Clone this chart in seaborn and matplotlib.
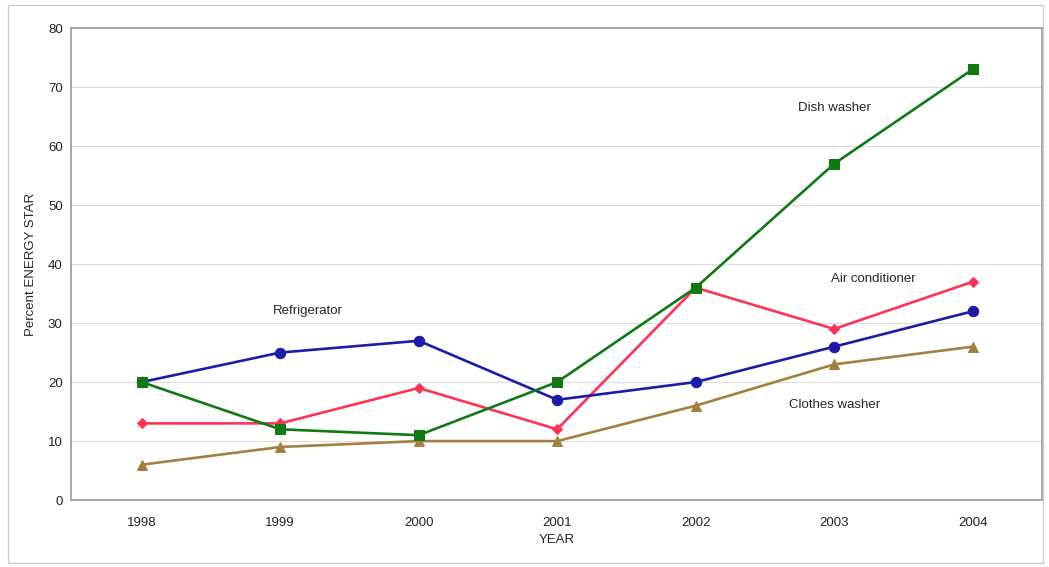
import pandas as pd
import matplotlib.pyplot as plt
import seaborn as sns
from matplotlib.patches import Rectangle

years = [1998, 1999, 2000, 2001, 2002, 2003, 2004]
refrigerator = [20, 25, 27, 17, 20, 26, 32]
dish_washer = [20, 12, 11, 20, 36, 57, 73]
air_conditioner = [13, 13, 19, 12, 36, 29, 37]
clothes_washer = [6, 9, 10, 10, 16, 23, 26]

# drawing order: bottom to top
series = {
    "Clothes washer": clothes_washer,
    "Air conditioner": air_conditioner,
    "Refrigerator": refrigerator,
    "Dish washer": dish_washer,
}
rows = []
for name, vals in series.items():
    for y, v in zip(years, vals):
        rows.append({"Year": y, "Value": v, "Appliance": name})
df = pd.DataFrame(rows)

sns.set_style("white")
plt.rcParams["font.family"] = ["Liberation Sans", "DejaVu Sans"]

colors = {
    "Refrigerator": "#1c1ca6",
    "Dish washer": "#0f7a14",
    "Air conditioner": "#ff3355",
    "Clothes washer": "#a3803f",
}
markers = {
    "Refrigerator": "o",
    "Dish washer": "s",
    "Air conditioner": "D",
    "Clothes washer": "^",
}
msize = {"Refrigerator": 7.5, "Dish washer": 7.5, "Air conditioner": 5.5, "Clothes washer": 7.5}

fig = plt.figure(figsize=(10.49, 5.67), dpi=100)
ax = fig.add_axes([0.0677, 0.118, 0.9256, 0.8326])

for name in series:
    sub = df[df["Appliance"] == name]
    sns.lineplot(data=sub, x="Year", y="Value", color=colors[name], marker=markers[name],
                 markersize=msize[name], markeredgecolor=colors[name], linewidth=1.9,
                 ax=ax, legend=False)

ax.set_xlim(1997.49, 2004.5)
ax.set_ylim(0, 80)
ax.set_yticks(range(0, 81, 10))
ax.set_xticks(years)
ax.yaxis.grid(True, color="#dddddd", linewidth=0.8)
ax.set_axisbelow(True)
for s in ax.spines.values():
    s.set_color("#999999")
    s.set_linewidth(1.2)
ax.tick_params(axis="both", labelsize=9.5, colors="#222222", length=0)
ax.tick_params(axis="y", pad=6)
ax.tick_params(axis="x", pad=12)
ax.set_xlabel("YEAR", fontsize=9.5, labelpad=4)
ax.set_ylabel("Percent ENERGY STAR", fontsize=9.5, labelpad=8)

ax.text(1999.2, 32, "Refrigerator", fontsize=9.5, ha="center", va="center")
ax.text(2003.0, 66.4, "Dish washer", fontsize=9.5, ha="center", va="center")
ax.text(2003.28, 37.5, "Air conditioner", fontsize=9.5, ha="center", va="center")
ax.text(2003.0, 16.1, "Clothes washer", fontsize=9.5, ha="center", va="center")

fig.patches.append(Rectangle((8 / 1049, 4 / 567), 1035 / 1049, 558 / 567,
                             transform=fig.transFigure, fill=False,
                             edgecolor="#cccccc", linewidth=1))

fig.savefig("out.png", dpi=100)
